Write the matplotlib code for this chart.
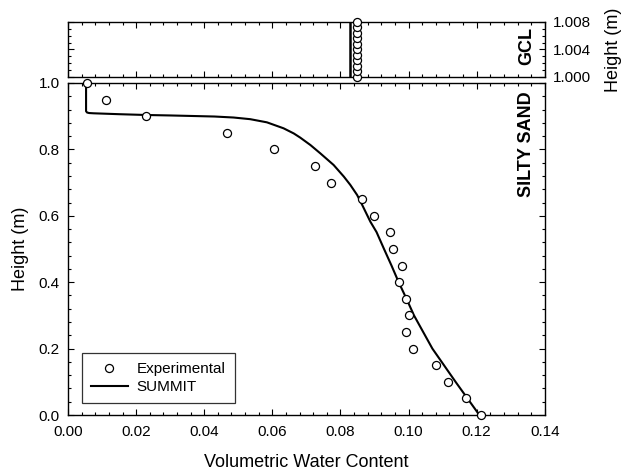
import matplotlib
matplotlib.use("Agg")
import matplotlib.pyplot as plt
from matplotlib.ticker import MultipleLocator

plt.rcParams["font.family"] = ["Liberation Sans", "DejaVu Sans"]

# experimental points (silty sand)
exp_theta = [0.0055, 0.0111, 0.0229, 0.0466, 0.0604, 0.0724, 0.0772, 0.0863, 0.0898,
             0.0947, 0.0954, 0.0981, 0.0971, 0.0993, 0.1001, 0.0992, 0.1014, 0.1080,
             0.1117, 0.1169, 0.1214]
exp_height = [1.00, 0.95, 0.90, 0.85, 0.80, 0.75, 0.70, 0.65, 0.60, 0.55, 0.50, 0.45,
              0.40, 0.35, 0.30, 0.25, 0.20, 0.15, 0.10, 0.05, 0.00]

# SUMMIT model curve
sim_theta = [0.0053, 0.0053, 0.0056, 0.0062, 0.0075, 0.0150, 0.0229, 0.0300, 0.0369,
             0.0430, 0.0486, 0.0535, 0.0584, 0.0633, 0.0663, 0.0682, 0.0712, 0.0741,
             0.0780, 0.0810, 0.0829, 0.0849, 0.0864, 0.0888, 0.0906, 0.0928, 0.0950,
             0.0971, 0.0994, 0.1016, 0.1043, 0.1070, 0.1104, 0.1138, 0.1173, 0.1208]
sim_height = [1.000, 0.915, 0.911, 0.9095, 0.9087, 0.9060, 0.9036, 0.9022, 0.9005,
              0.8990, 0.8960, 0.8910, 0.8815, 0.8635, 0.8480, 0.8354, 0.8130, 0.7880,
              0.7530, 0.7180, 0.6930, 0.6627, 0.6325, 0.5820, 0.5510, 0.5000, 0.4500,
              0.4000, 0.3500, 0.3000, 0.2500, 0.2000, 0.1500, 0.1000, 0.0500, 0.0000]

# GCL layer
gcl_exp_theta = [0.0849] * 11
gcl_exp_height = [1.0000, 1.0008, 1.0016, 1.0024, 1.0032, 1.0040, 1.0048, 1.0056,
                  1.0064, 1.0072, 1.0080]
gcl_sim_theta = [0.0829, 0.0829]
gcl_sim_height = [1.000, 1.008]

fig = plt.figure(figsize=(6.24, 4.75), dpi=100)
ax = fig.add_axes([0.109, 0.1263, 0.764, 0.699])
ax_top = fig.add_axes([0.109, 0.838, 0.764, 0.1157], sharex=ax)

mk = dict(marker="o", mfc="white", mec="black", mew=0.9, ms=5.8, ls="none")

ax.plot(sim_theta, sim_height, color="black", lw=1.5, label="SUMMIT", zorder=2)
ax.plot(exp_theta, exp_height, label="Experimental", clip_on=False, zorder=3, **mk)

ax_top.plot(gcl_sim_theta, gcl_sim_height, color="black", lw=1.8, zorder=2)
ax_top.plot(gcl_exp_theta, gcl_exp_height, clip_on=False, zorder=3, **mk)

ax.set_xlim(0, 0.14)
ax.set_ylim(0, 1.0)
ax_top.set_ylim(1.000, 1.008)

for a in (ax, ax_top):
    a.tick_params(which="both", direction="in", top=True, right=True,
                  labelsize=11, width=0.8)
    a.tick_params(which="major", length=4.5)
    a.tick_params(which="minor", length=2.5)
    for s in a.spines.values():
        s.set_linewidth(1.0)

ax.tick_params(axis="x", which="major", pad=7)
ax.tick_params(axis="y", which="major", pad=6)

ax.xaxis.set_major_locator(MultipleLocator(0.02))
ax.xaxis.set_minor_locator(MultipleLocator(0.004))
ax.yaxis.set_major_locator(MultipleLocator(0.2))
ax.yaxis.set_minor_locator(MultipleLocator(0.04))
ax.xaxis.set_major_formatter(plt.FormatStrFormatter("%.2f"))
ax.yaxis.set_major_formatter(plt.FormatStrFormatter("%.1f"))

ax_top.yaxis.set_major_locator(MultipleLocator(0.004))
ax_top.yaxis.set_minor_locator(MultipleLocator(0.001))
ax_top.yaxis.set_major_formatter(plt.FormatStrFormatter("%.3f"))
ax_top.tick_params(axis="x", labelbottom=False)
ax_top.tick_params(axis="y", labelleft=False, labelright=True, pad=6)
ax_top.yaxis.set_label_position("right")
ax_top.set_ylabel("Height (m)", fontsize=13, labelpad=10)

ax.set_xlabel("Volumetric Water Content", fontsize=13, labelpad=11)
ax.set_ylabel("Height (m)", fontsize=13, labelpad=7)

ax.text(0.962, 0.975, "SILTY SAND", transform=ax.transAxes, rotation=90,
        ha="center", va="top", fontsize=13, fontweight="bold")
ax_top.text(0.962, 0.56, "GCL", transform=ax_top.transAxes, rotation=90,
            ha="center", va="center", fontsize=13, fontweight="bold")

leg = ax.legend(handles=ax.get_lines()[::-1], loc="lower left",
                bbox_to_anchor=(0.029, 0.036), borderaxespad=0, fontsize=11,
                frameon=True, fancybox=False, edgecolor="black",
                handlelength=2.4, handletextpad=0.6, borderpad=0.6,
                labelspacing=0.25)
leg.get_frame().set_linewidth(0.9)

fig.savefig("out.png", dpi=100)
